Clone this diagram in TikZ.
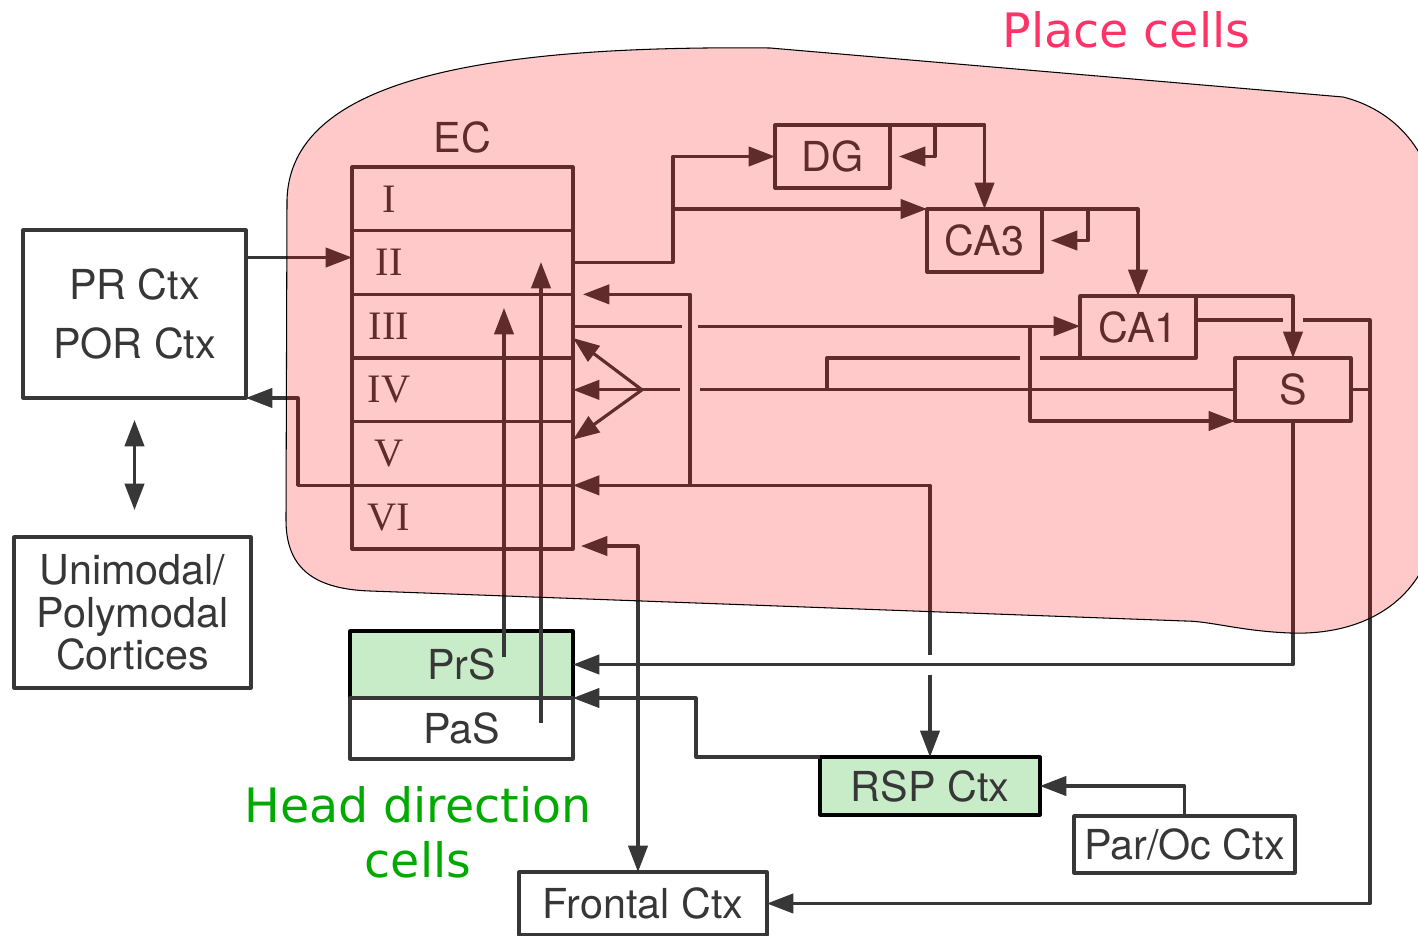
\documentclass[tikz,border=0pt]{standalone}
\usepackage{fontspec}
\usetikzlibrary{positioning,arrows.meta}
\newfontfamily\boxfont{TeX Gyre Heros}
\newfontfamily\notefont{DejaVu Sans}
\newfontfamily\romfont{Liberation Serif}
\definecolor{lineclr}{RGB}{55,55,55}
\definecolor{placeclr}{RGB}{255,51,102}
\definecolor{hdclr}{RGB}{0,170,0}
\definecolor{hdfill}{RGB}{200,235,200}

\tikzset{
  box/.style={draw=lineclr, line width=1.8pt, text=lineclr, inner sep=0pt, outer sep=0pt,
    align=center, font=\boxfont\fontsize{23.5}{28}\selectfont},
  hdbox/.style={box, draw=black, fill=hdfill},
  ecrow/.style={draw=lineclr, line width=1.8pt, minimum width=4.42cm, minimum height=1.2734cm,
    inner sep=0pt, outer sep=0pt},
  numeral/.style={text=lineclr, inner sep=0pt, font=\romfont\fontsize{23}{27}\selectfont},
  note/.style={inner sep=0pt, align=center, font=\notefont\fontsize{27}{31.2}\selectfont},
  wire/.style={draw=lineclr, line width=1.8pt},
  blob/.style={fill=red, fill opacity=0.21, draw=black, line width=0.6pt},
}

\begin{document}
\begin{tikzpicture}[x=0.02cm,y=-0.02cm,line join=round,>={Triangle[length=15pt,width=11pt]}]
  \useasboundingbox (0,0) rectangle (1418,936);

  % cortical boxes
  \node[box, minimum width=4.46cm, minimum height=3.36cm,
    font=\boxfont\fontsize{23.5}{33.4}\selectfont] (PR) at (134.5,314) {PR Ctx\\POR Ctx};
  \node[box, minimum width=4.74cm, minimum height=3.02cm,
    font=\boxfont\fontsize{23.5}{24.2}\selectfont] (Uni) at (132.5,612.5) {Unimodal/\\Polymodal\\Cortices};

  % entorhinal layers
  \foreach \r [count=\k] in {I,II,III,IV,V,VI} {
      \node[ecrow] (EC\k) at (462.5,{135.17+63.67*\k}) {};
      \node[numeral] (num\k) at ([xshift=-1.47cm]EC\k.center) {\r};
    }
  \node[box, draw=none, above=0.28cm of EC1] (ectitle) {EC};

  % hippocampal fields
  \node[box, minimum width=2.3cm, minimum height=1.26cm] (DG) at (832.5,156.5) {DG};
  \node[box, minimum width=2.3cm, minimum height=1.26cm] (CA3) at (984.5,240.5) {CA3};
  \node[box, minimum width=2.32cm, minimum height=1.24cm] (CA1) at (1138,327) {CA1};
  \node[box, minimum width=2.32cm, minimum height=1.26cm] (S) at (1293,389.5) {S};

  % head direction areas and other cortices
  \node[hdbox, minimum width=4.46cm, minimum height=1.34cm] (PrS) at (461.5,664.5) {PrS};
  \node[box, minimum width=4.46cm, minimum height=1.22cm, below=0pt of PrS] (PaS) {PaS};
  \node[hdbox, minimum width=4.4cm, minimum height=1.16cm] (RSP) at (930,786) {RSP Ctx};
  \node[box, minimum width=4.42cm, minimum height=1.14cm] (Par) at (1184.5,844.5) {Par/Oc Ctx};
  \node[box, minimum width=4.96cm, minimum height=1.26cm] (Frontal) at (643,903.5) {Frontal Ctx};

  % PR/POR <-> EC
  \coordinate (prin) at ([yshift=0.1cm]EC2.west);
  \draw[wire,->] (prin -| PR.east) -- (prin);
  \draw[wire,->] (EC6.north west) -- ++(-54,0) |- (PR.south east);
  \draw[wire,<->,shorten <=0.44cm,shorten >=0.54cm] (PR.south) -- (PR.south |- Uni.north);

  % EC II -> DG, CA3
  \path (CA3.north west) ++(-254,0) coordinate (ppfork);
  \draw[wire,->] (EC2.east) -| (ppfork) |- (DG.west);
  \draw[wire,->] (ppfork) -- (CA3.north west);

  % trisynaptic loop
  \draw[wire,->] (DG.north east) -| (CA3.north);
  \draw[wire,->] ([xshift=0.9cm]DG.north east) |- ([xshift=0.18cm]DG.east);
  \draw[wire,->] (CA3.north east) -| (CA1.north);
  \draw[wire,->] ([xshift=0.92cm]CA3.north east) |- ([xshift=0.18cm]CA3.east);
  \draw[wire,->] (CA1.north east) -| (S.north);

  % CA1, S -> Frontal
  \coordinate (caout) at ([yshift=0.14cm]CA1.east);
  \coordinate (hopA) at (caout -| S.north);
  \draw[wire] (caout) -- ([xshift=-0.2cm]hopA);
  \draw[wire,->] ([xshift=0.2cm]hopA) -- ++(67,0) |- (Frontal.east);
  \draw[wire] (S.east) -- ++(19,0);

  % S -> PrS
  \draw[wire,->] (S.south) |- (PrS.east);

  % EC III -> CA1, S
  \path (EC6.north east) ++(117,0) coordinate (rspfork);
  \coordinate (hopB) at (EC3.east -| rspfork);
  \draw[wire] (EC3.east) -- ([xshift=-0.16cm]hopB);
  \draw[wire,->] ([xshift=0.16cm]hopB) -- (hopB -| CA1.west);
  \path (CA1.west) ++(-50,0) coordinate (subfork);
  \draw[wire,->] (subfork) |- (S.south west);

  % CA1, S -> deep EC
  \path (EC4.east) ++(69,0) coordinate (fan);
  \draw[wire,->] (fan) -- ([yshift=0.4cm]EC4.north east);
  \draw[wire,->] (fan) -- (EC4.east);
  \draw[wire,->] (fan) -- ([yshift=-0.36cm]EC4.south east);
  \coordinate (hopC) at (fan -| rspfork);
  \draw[wire] (fan) -- ([xshift=-0.2cm]hopC);
  \draw[wire] ([xshift=0.2cm]hopC) -- (hopC -| S.west);
  \path (hopC) ++(137,0) coordinate (fanjoin);
  \coordinate (hopD) at (CA1.south west -| subfork);
  \draw[wire] (fanjoin) |- ([xshift=-0.2cm]hopD);
  \draw[wire] ([xshift=0.2cm]hopD) -- (CA1.south west);

  % RSP <-> EC
  \coordinate (hopE) at (RSP.north |- PrS.east);
  \draw[wire,<-] (EC6.north east) -| ([yshift=0.2cm]hopE);
  \draw[wire,->] ([yshift=-0.2cm]hopE) -- (RSP.north);
  \draw[wire,->,shorten >=0.2cm] (rspfork) |- (EC3.north east);

  % Frontal <-> EC
  \draw[wire,<->,shorten <=0.16cm] ([yshift=0.06cm]EC6.south east) -| ([xshift=-0.1cm]Frontal.north);

  % RSP -> PrS/PaS, Par/Oc -> RSP
  \draw[wire,->] (RSP.north west) -- ++(-124,0) |- (PrS.south east);
  \draw[wire,->] (Par.north) |- (RSP.east);

  % PrS, PaS -> EC
  \draw[wire,->] ([xshift=0.85cm,yshift=0.15cm]PrS.center) -- ++(0,-349);
  \draw[wire,->] ([xshift=1.59cm,yshift=0.11cm]PaS.center) -- ++(0,-461);

  % place cell region
  \draw[blob] (286,520) -- (287,200) .. controls (290,80) and (480,45) .. (770,48)
    -- (1343,97) .. controls (1395,110) and (1428,150) .. (1436,200)
    -- (1436,520) .. controls (1430,595) and (1370,636) .. (1290,633)
    .. controls (1240,631) and (1210,621) .. (1185,621)
    -- (370,591) .. controls (310,589) and (286,565) .. (286,520) -- cycle;

  \node[note, text=placeclr, anchor=base] (placecells) at (1126.5,48) {Place cells};
  \node[note, text=hdclr] (hdcells) at (418,832) {Head direction\\cells};
\end{tikzpicture}
\end{document}
